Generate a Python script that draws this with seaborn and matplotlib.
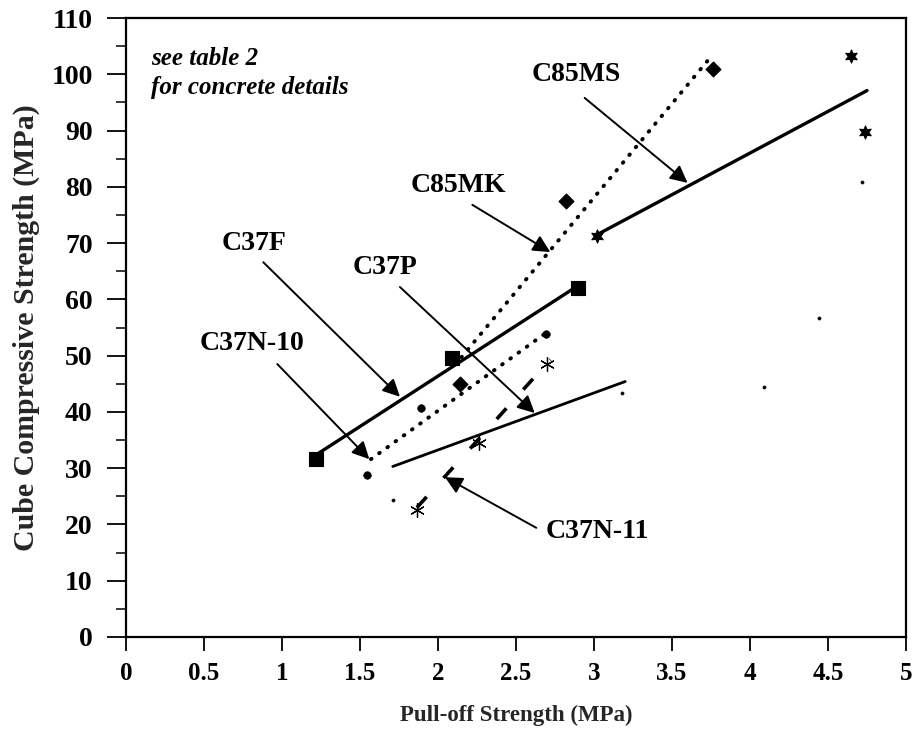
import matplotlib
matplotlib.use("Agg")
import matplotlib.pyplot as plt
from matplotlib.ticker import MultipleLocator
import seaborn as sns
import pandas as pd

# ---------------- data ----------------
c37f_x = [1.22, 2.09, 2.90]
c37f_y = [31.6, 49.6, 62.0]
c37n10_x = [1.545, 1.89, 2.69]
c37n10_y = [28.8, 40.7, 53.8]
c85mk_x = [2.14, 2.82, 3.76]
c85mk_y = [45.0, 77.5, 101.0]
c37n11_x = [1.865, 2.26, 2.70]
c37n11_y = [22.6, 34.5, 48.5]
c85ms_x = [3.02, 4.65, 4.74]
c85ms_y = [71.3, 103.3, 89.7]
c37p_x = [1.71, 3.18, 4.09, 4.44, 4.72]
c37p_y = [24.4, 43.4, 44.5, 56.6, 80.8]

# fitted trend lines (end points)
fit_c37f_x, fit_c37f_y = [1.22, 2.89], [32.4, 62.3]
fit_c37n10_x, fit_c37n10_y = [1.57, 2.69], [31.6, 54.0]
fit_c85mk_x, fit_c85mk_y = [2.15, 3.74], [49.7, 102.8]
fit_c85ms_x, fit_c85ms_y = [3.02, 4.75], [71.5, 97.1]
fit_c37n11_x, fit_c37n11_y = [1.865, 2.72], [23.0, 49.3]
fit_c37p_x, fit_c37p_y = [1.71, 3.20], [30.3, 45.4]

labels = ["C85MS", "C85MK", "C37F", "C37P", "C37N-10", "C37N-11"]
label_x = [2.885, 2.13, 0.82, 1.66, 0.81, 3.02]
label_y = [99.9, 80.3, 70.0, 65.6, 52.1, 18.8]
arrow_start_x = [2.94, 2.22, 0.88, 1.756, 0.97, 2.63]
arrow_start_y = [95.8, 76.8, 66.6, 62.2, 48.5, 19.4]
arrow_tip_x = [3.60, 2.72, 1.756, 2.62, 1.56, 2.045]
arrow_tip_y = [80.7, 68.4, 42.7, 39.8, 31.6, 28.4]

x_ticks = [0, 0.5, 1, 1.5, 2, 2.5, 3, 3.5, 4, 4.5, 5]
x_ticklabels = ["0", "0.5", "1", "1.5", "2", "2.5", "3", "3.5", "4", "4.5", "5"]
y_ticks = [0, 10, 20, 30, 40, 50, 60, 70, 80, 90, 100, 110]

note_text = "see table 2\nfor concrete details"
x_title = "Pull-off Strength (MPa)"
y_title = "Cube Compressive Strength (MPa)"

# ---------------- style ----------------
sns.set_style("ticks")
plt.rcParams["font.family"] = ["Liberation Serif", "DejaVu Serif"]
plt.rcParams["font.weight"] = "bold"

fig = plt.figure(figsize=(9.17, 7.36), dpi=100)
ax = fig.add_axes([126 / 917, 1 - 637 / 736, 780 / 917, (637 - 18) / 736])

K = "black"

# trend lines
def line(x, y, **kw):
    sns.lineplot(x=x, y=y, ax=ax, color=K, legend=False, sort=False,
                 estimator=None, **kw)

line(fit_c37f_x, fit_c37f_y, linewidth=2.4)
line(fit_c85ms_x, fit_c85ms_y, linewidth=2.4)
line(fit_c37p_x, fit_c37p_y, linewidth=2.0)
line(fit_c37n10_x, fit_c37n10_y, linewidth=2.8, dashes=(0.2, 2.4))
line(fit_c85mk_x, fit_c85mk_y, linewidth=2.8, dashes=(0.2, 2.4))
for ln in ax.lines[-2:]:
    ln.set_dash_capstyle("round")
line(fit_c37n11_x, fit_c37n11_y, linewidth=2.6, dashes=(4.0, 7.0))

# markers
def pts(x, y, marker, s, **kw):
    sns.scatterplot(x=x, y=y, ax=ax, marker=marker, s=s, color=K,
                    edgecolor=K, legend=False, zorder=5, **kw)

pts(c37f_x, c37f_y, "s", 100)
pts(c37n10_x, c37n10_y, "o", 30)
pts(c85mk_x, c85mk_y, "D", 60)
pts(c37n11_x, c37n11_y, (6, 2, 0), 100, linewidth=0.9)
pts(c85ms_x, c85ms_y, (6, 1, 0), 90)
pts(c37p_x, c37p_y, "o", 6)

# annotations
for t, tx, ty, sx, sy, hx, hy in zip(labels, label_x, label_y,
                                      arrow_start_x, arrow_start_y,
                                      arrow_tip_x, arrow_tip_y):
    ax.text(tx, ty, t, ha="center", va="center", fontsize=20,
            fontweight="bold", color=K)
    ax.annotate("", xy=(hx, hy), xytext=(sx, sy),
                arrowprops=dict(arrowstyle="-|>", color=K, lw=1.4,
                                mutation_scale=26, shrinkA=0, shrinkB=0))

ax.text(0.16, 104.8, note_text, ha="left", va="top", fontsize=18,
        fontstyle="italic", fontweight="bold", linespacing=1.3, color=K)

# axes
ax.set_xlim(0, 5)
ax.set_ylim(0, 110)
ax.set_xticks(x_ticks)
ax.set_xticklabels(x_ticklabels)
ax.set_yticks(y_ticks)
ax.yaxis.set_minor_locator(MultipleLocator(5))
ax.tick_params(axis="both", which="major", labelsize=18, width=1.3,
               color=K, labelcolor=K)
ax.tick_params(axis="y", which="major", length=14, pad=10, labelsize=20)
ax.tick_params(axis="y", which="minor", length=7, width=1.3)
ax.tick_params(axis="x", which="major", length=10, pad=8)
for lab in ax.get_xticklabels() + ax.get_yticklabels():
    lab.set_fontweight("bold")
for sp in ax.spines.values():
    sp.set_visible(True)
    sp.set_linewidth(1.6)
    sp.set_color(K)

ax.set_xlabel(x_title, fontsize=16.5, fontweight="bold", labelpad=14)
ax.set_ylabel(y_title, fontsize=21.5, fontweight="bold", labelpad=8)

fig.savefig("out.png", dpi=100)
